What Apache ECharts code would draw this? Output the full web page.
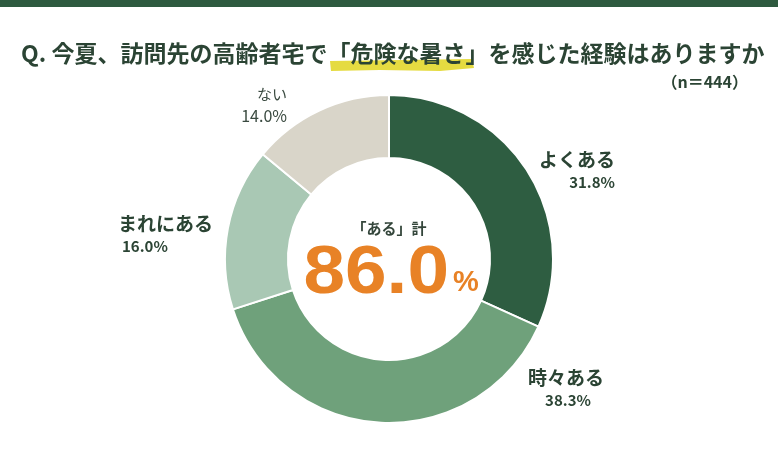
<!DOCTYPE html>
<html>
<head>
<meta charset="utf-8">
<script src="https://cdn.jsdelivr.net/npm/echarts@6/dist/echarts.min.js"></script>
<style>
  html, body { margin: 0; padding: 0; background: #fff; }
  #chart { width: 778px; height: 449px; }
</style>
</head>
<body>
<div id="chart"></div>
<script>
// 回答区分と割合（%）
const categories = ['よくある', '時々ある', 'まれにある', 'ない'];
const shares = [31.8, 38.3, 16.0, 14.0];
const sliceColors = ['#2e5d41', '#6fa17b', '#a9c8b4', '#d9d5c9'];
const aruTotal = 86.0; // 「ある」計（原票集計値）
const sampleSize = 444;

// ラベルの置き場所（ピクセル）
const labelSpots = [
    { x: 615, y: 148, align: 'right' },
    { x: 566, y: 366, align: 'center' },
    { x: 118, y: 212, align: 'left' },
    { x: 287, y: 83, align: 'right' }
];

const font = '"Noto Sans CJK JP", "Noto Sans", sans-serif';
const ink = '#2b4434';

const chart = echarts.init(document.getElementById('chart'));

const pieData = categories.map((name, i) => ({
    name: name,
    value: shares[i],
    itemStyle: { color: sliceColors[i] }
}));

chart.setOption({
    animation: false,
    title: {
        text: 'Q. 今夏、訪問先の高齢者宅で「危険な暑さ」を感じた経験はありますか',
        left: 16,
        top: 37,
        textStyle: { fontFamily: font, fontSize: 23, fontWeight: 'bold', color: ink }
    },
    graphic: [
        { type: 'rect', left: 0, top: 0, shape: { width: 778, height: 7 }, style: { fill: '#2e5a3f' } },
        // 「危険な暑さ」のマーカー
        {
            type: 'polygon', z: 0,
            shape: { points: [[330, 61], [472, 59], [474, 68], [440, 71], [380, 70], [331, 71]] },
            style: { fill: '#e2d72c', opacity: 0.9 }
        },
        {
            type: 'text', right: 30, top: 74,
            style: { text: '（n＝' + sampleSize + '）', font: 'bold 16px ' + font, fill: ink }
        },
        {
            type: 'text', x: 389, y: 228,
            style: { text: '「ある」計', font: 'bold 15px ' + font, fill: '#34463b', align: 'center', verticalAlign: 'middle' }
        },
        {
            type: 'text', x: 449, y: 274, scaleX: 1.1,
            style: { text: aruTotal.toFixed(1), font: 'bold 68px "Liberation Sans", Arial, sans-serif', fill: '#e88226', align: 'right', verticalAlign: 'middle' }
        },
        {
            type: 'text', x: 453, y: 283,
            style: { text: '%', font: 'bold 29px "Liberation Sans", Arial, sans-serif', fill: '#e88226', align: 'left', verticalAlign: 'middle' }
        }
    ],
    series: [{
        type: 'pie',
        center: [389, 259],
        radius: [101, 164],
        startAngle: 90,
        clockwise: true,
        avoidLabelOverlap: false,
        itemStyle: { borderColor: '#fff', borderWidth: 2 },
        emphasis: { disabled: true },
        labelLine: { show: false },
        label: {
            show: true,
            position: 'outside',
            formatter: p => {
                if (p.name === 'ない') return '{nl|' + p.name + '}\n{pl|' + p.value.toFixed(1) + '%}';
                return '{n|' + p.name + '}\n{p|' + p.value.toFixed(1) + '%}';
            },
            rich: {
                n: { fontFamily: font, fontSize: 19, fontWeight: 'bold', color: ink, lineHeight: 23 },
                p: { fontFamily: font, fontSize: 15, fontWeight: 'bold', color: ink, lineHeight: 22, padding: [0, 0, 0, 4] },
                nl: { fontFamily: font, fontSize: 15, color: '#3a4a40', lineHeight: 22 },
                pl: { fontFamily: font, fontSize: 16, color: '#3a4a40', lineHeight: 21 }
            }
        },
        labelLayout: params => {
            const s = labelSpots[params.dataIndex];
            return { x: s.x, y: s.y, align: s.align, verticalAlign: 'top' };
        },
        data: pieData
    }]
});
</script>
</body>
</html>
